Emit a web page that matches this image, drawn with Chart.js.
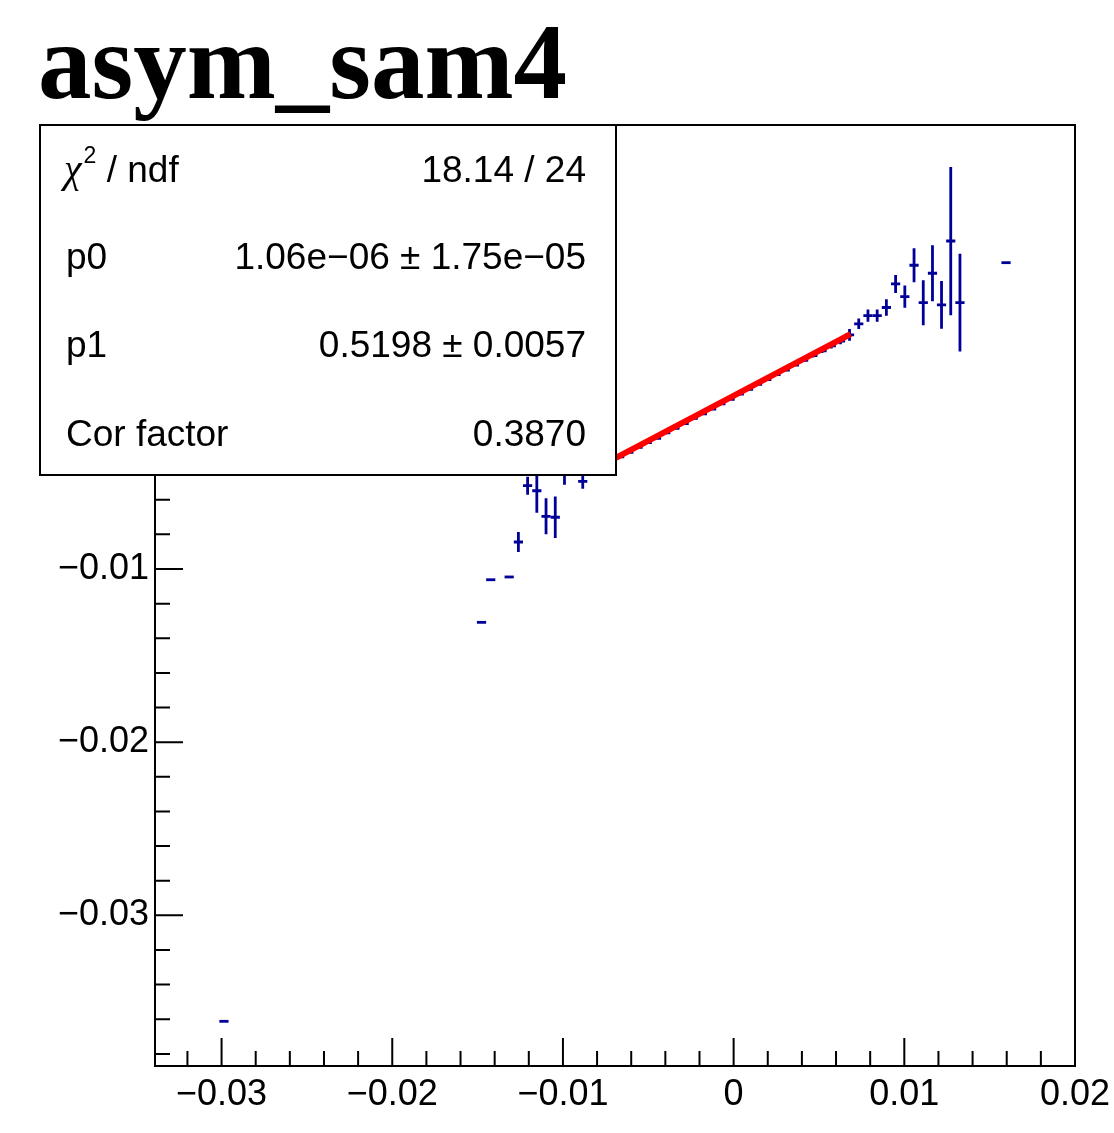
<!DOCTYPE html>
<html lang="en">
<head>
<meta charset="UTF-8" />
<title>asym_sam4</title>
<script src="https://cdn.jsdelivr.net/npm/chart.js"></script>
<style>
  body { margin: 0; background: #fff; }
</style>
</head>
<body>
<canvas id="c" width="1114" height="1133"></canvas>
<script>
// profile bins (bin centres), mean values and errors
const binX = [-0.02986, -0.01477, -0.01423, -0.01315, -0.01261, -0.01207, -0.01153, -0.01099, -0.01045, -0.00991, -0.00884,
  -0.00668, -0.00614, -0.00560, -0.00506, -0.00452, -0.00398, -0.00344, -0.00290, -0.00237, -0.00183, -0.00129, -0.00075, -0.00021,
  0.00033, 0.00087, 0.00140, 0.00194, 0.00248, 0.00302, 0.00356, 0.00410, 0.00464, 0.00518, 0.00572, 0.00626,
  0.00679, 0.00733, 0.00787, 0.00841, 0.00895, 0.00949, 0.01003, 0.01057, 0.01111, 0.01165, 0.01218, 0.01272, 0.01326, 0.01596];
const binY = [-0.03612, -0.01308, -0.01062, -0.01046, -0.00844, -0.00519, -0.00548, -0.00696, -0.00701, -0.00427, -0.00494,
  -0.00352, -0.00326, -0.00298, -0.00270, -0.00245, -0.00214, -0.00188, -0.00160, -0.00130, -0.00104, -0.00076, -0.00046, -0.00020,
  0.00010, 0.00038, 0.00066, 0.00094, 0.00122, 0.00148, 0.00178, 0.00205, 0.00232, 0.00260, 0.00288, 0.00316,
  0.00352, 0.00416, 0.00463, 0.00463, 0.00510, 0.00646, 0.00573, 0.00754, 0.00538, 0.00708, 0.00525, 0.00894, 0.00538, 0.00769];
const binErr = [0, 0, 0, 0, 0.00058, 0.00052, 0.00127, 0.00104, 0.00120, 0.00087, 0.00043,
  0.00009, 0.00008, 0.00008, 0.00007, 0.00007, 0.00006, 0.00006, 0.00006, 0.00006, 0.00006, 0.00006, 0.00006, 0.00006,
  0.00006, 0.00006, 0.00006, 0.00006, 0.00007, 0.00007, 0.00008, 0.00009, 0.00010, 0.00012, 0.00014, 0.00018,
  0.00034, 0.00030, 0.00035, 0.00035, 0.00048, 0.00052, 0.00064, 0.00098, 0.00130, 0.00162, 0.00138, 0.00428, 0.00282, 0];
const binWidth = 0.000539;

// pol1 fit
const p0 = 1.06e-6;
const p1 = 0.5198;
const fitX = [-0.0069, 0.00685];

const xTicks = [-0.03, -0.02, -0.01, 0, 0.01, 0.02];
const yTicks = [-0.03, -0.02, -0.01, 0, 0.01];

const statLabels = ["χ2 / ndf", "p0", "p1", "Cor factor"];
const statValues = ["18.14 / 24", "1.06e−06 ± 1.75e−05", "0.5198 ± 0.0057", "0.3870"];

const X_MIN = -0.0339, X_MAX = 0.02;
const Y_MIN = -0.0387, Y_MAX = 0.01564;

Chart.defaults.font.family = "'Liberation Sans', Arial, sans-serif";
Chart.defaults.color = "#000";

function fmt(v) {
  if (Math.abs(v) < 1e-12) return "0";
  return (v < 0 ? "\u2212" : "") + String(Math.abs(v));
}

const rootStyle = {
  id: "rootStyle",
  beforeDatasetsDraw(chart) {
    const { ctx, scales: { x, y } } = chart;
    const meta = chart.getDatasetMeta(0);
    ctx.save();
    ctx.strokeStyle = "#000099";
    ctx.lineWidth = 2.8;
    meta.data.forEach((pt, i) => {
      const xl = x.getPixelForValue(binX[i] - binWidth / 2);
      const xr = x.getPixelForValue(binX[i] + binWidth / 2);
      ctx.beginPath();
      ctx.moveTo(xl, pt.y);
      ctx.lineTo(xr, pt.y);
      if (binErr[i] > 0) {
        ctx.moveTo(pt.x, y.getPixelForValue(binY[i] + binErr[i]));
        ctx.lineTo(pt.x, y.getPixelForValue(binY[i] - binErr[i]));
      }
      ctx.stroke();
    });
    ctx.restore();
  },
  afterDraw(chart) {
    const { ctx, chartArea: a, scales: { x, y } } = chart;
    ctx.save();

    // frame
    ctx.strokeStyle = "#000";
    ctx.lineWidth = 2;
    ctx.strokeRect(a.left, a.top, a.right - a.left, a.bottom - a.top);

    // inward ticks, major every 0.01, minor every 0.002
    ctx.lineWidth = 2;
    ctx.beginPath();
    for (let k = -17; k <= 10; k++) {
      const v = k * 0.002;
      const px = x.getPixelForValue(v);
      if (px < a.left - 0.5 || px > a.right + 0.5) continue;
      const len = k % 5 === 0 ? 28 : 15;
      ctx.moveTo(px, a.bottom);
      ctx.lineTo(px, a.bottom - len);
    }
    for (let k = -19; k <= 7; k++) {
      const v = k * 0.002;
      const py = y.getPixelForValue(v);
      if (py < a.top - 0.5 || py > a.bottom + 0.5) continue;
      const len = k % 5 === 0 ? 28 : 15;
      ctx.moveTo(a.left, py);
      ctx.lineTo(a.left + len, py);
    }
    ctx.stroke();

    // stats box
    const bx = 40, by = 125, bw = 576, bh = 350;
    ctx.fillStyle = "#fff";
    ctx.fillRect(bx, by, bw, bh);
    ctx.lineWidth = 2;
    ctx.strokeRect(bx, by, bw, bh);

    ctx.fillStyle = "#000";
    ctx.textBaseline = "alphabetic";
    const rowY = [182, 269, 357, 446];
    const sans = "'Liberation Sans', Arial, sans-serif";
    statLabels.forEach((lab, i) => {
      ctx.textAlign = "left";
      if (i === 0) {
        ctx.font = "italic 40px 'Liberation Serif', serif";
        ctx.fillText("χ", 64, rowY[i]);
        let w = ctx.measureText("χ").width;
        ctx.font = "23px " + sans;
        ctx.fillText("2", 64 + w + 2, rowY[i] - 19);
        w += ctx.measureText("2").width + 2;
        ctx.font = "37px " + sans;
        ctx.fillText(" / ndf", 64 + w, rowY[i]);
      } else {
        ctx.font = "37px " + sans;
        ctx.fillText(lab, 66, rowY[i]);
      }
      ctx.font = "37px " + sans;
      ctx.textAlign = "right";
      ctx.fillText(statValues[i], 586, rowY[i]);
    });

    // title
    ctx.textAlign = "left";
    ctx.font = "bold 107px 'Liberation Serif', 'Times New Roman', serif";
    ctx.fillText("asym_sam4", 38, 98);

    ctx.restore();
  }
};

new Chart(document.getElementById("c"), {
  type: "scatter",
  data: {
    datasets: [
      {
        data: binX.map((v, i) => ({ x: v, y: binY[i] })),
        pointRadius: 0,
        pointHoverRadius: 0,
        showLine: false
      },
      {
        type: "line",
        data: fitX.map(v => ({ x: v, y: p0 + p1 * v })),
        borderColor: "#ff0000",
        borderWidth: 6,
        pointRadius: 0,
        fill: false
      }
    ]
  },
  options: {
    responsive: false,
    animation: false,
    events: [],
    layout: { padding: { top: 125, right: 39, left: 0, bottom: 0 } },
    plugins: { legend: { display: false }, tooltip: { enabled: false } },
    scales: {
      x: {
        type: "linear",
        min: X_MIN,
        max: X_MAX,
        afterBuildTicks: s => { s.ticks = xTicks.map(v => ({ value: v })); },
        afterFit: s => { s.height = 67; s.paddingRight = 0; s.paddingLeft = 0; },
        grid: { display: false, drawTicks: false },
        border: { display: false },
        ticks: { font: { size: 36 }, padding: 7, maxRotation: 0, autoSkip: false, callback: v => fmt(v) }
      },
      y: {
        type: "linear",
        min: Y_MIN,
        max: Y_MAX,
        afterBuildTicks: s => { s.ticks = yTicks.map(v => ({ value: v })); },
        afterFit: s => { s.width = 155; s.paddingTop = 0; s.paddingBottom = 0; },
        grid: { display: false, drawTicks: false },
        border: { display: false },
        ticks: { font: { size: 36 }, padding: 6, autoSkip: false, callback: v => fmt(v) }
      }
    }
  },
  plugins: [rootStyle]
});
</script>
</body>
</html>
